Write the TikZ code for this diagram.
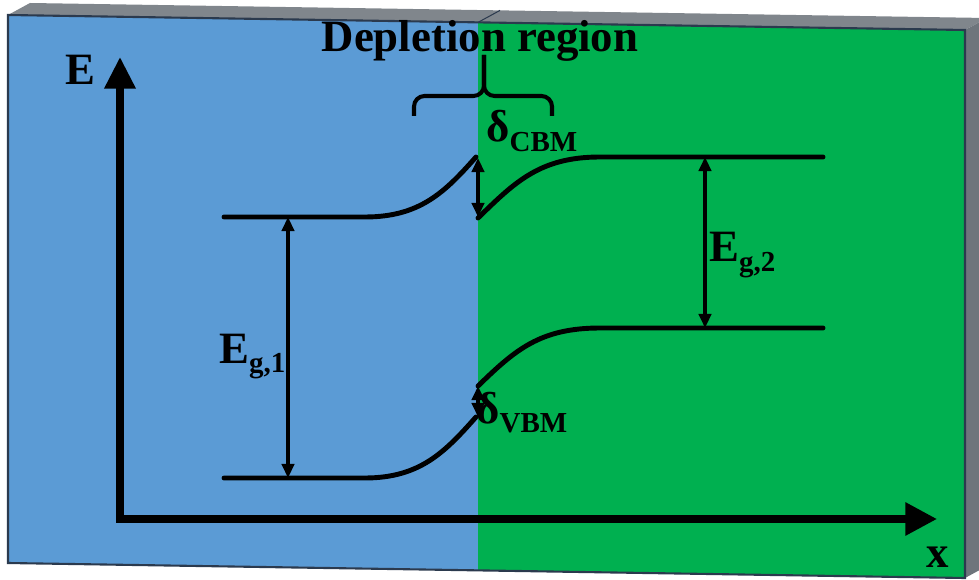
\documentclass[tikz,border=0pt]{standalone}
\usepackage{fontspec}
\setmainfont{Liberation Serif}
\usetikzlibrary{arrows.meta}

\definecolor{pside}{HTML}{5B9BD5}
\definecolor{nside}{HTML}{00B050}
\definecolor{slabtop}{HTML}{80868C}
\definecolor{slabside}{HTML}{6E757C}
\definecolor{slabedge}{HTML}{2B3A4E}

\newcommand{\bandlbl}[2]{#1\raisebox{-0.22em}{\fontsize{16.5}{18}\selectfont #2}}

\tikzset{
  band/.style={line width=2.8pt, line cap=round},
  axis/.style={line width=4pt, {Triangle[length=18pt,width=17pt]}-{Triangle[length=18pt,width=18pt]}},
  gap/.style={line width=2pt, {Triangle[length=8pt,width=7pt]}-{Triangle[length=8pt,width=7pt]}},
  lbl/.style={font=\fontsize{25.5}{30}\selectfont\bfseries, inner sep=0pt},
}

\begin{document}
\begin{tikzpicture}[x=0.02cm, y=-0.02cm]
  \useasboundingbox (0,0) rectangle (979,580);
  \def\xj{478}
  % slab
  \fill[slabtop] (8,15) -- (30,3) -- (987,18) -- (965,30) -- cycle;
  \fill[slabside] (965,30) -- (987,18) -- (987,566) -- (965,578) -- cycle;
  \draw[slabedge, line width=0.6pt] (\xj,22.4) -- (\xj+22,10.4);
  \fill[pside] (8,15) -- (\xj,22.4) -- (\xj,570.5) -- (8,563) -- cycle;
  \fill[nside] (\xj,22.4) -- (965,30) -- (965,578) -- (\xj,570.5) -- cycle;
  \draw[slabedge, line width=1.2pt] (8,15) -- (965,30) -- (965,578) -- (8,563) -- cycle;

  % axes
  \coordinate (etip) at (120,57);
  \coordinate (origin) at (120,519);
  \coordinate (xtip) at (937,519);
  \draw[axis] (etip) -- (origin) -- (xtip);
  \node[lbl, anchor=base] (elabel) at (80,85) {E};
  \node[lbl, anchor=base] (xlabel) at (938,567) {x};

  % bands
  \coordinate (cbL) at (224,217);
  \coordinate (cbJL) at (476,157);
  \coordinate (cbJR) at (\xj,218);
  \coordinate (cbR) at (823,157);
  \coordinate (vbL) at (224,478);
  \coordinate (vbJL) at (476,417);
  \coordinate (vbJR) at (\xj,386);
  \coordinate (vbR) at (823,328);
  \draw[band] (cbL) -- (365,217) .. controls (420,217) and (445,192) .. (cbJL);
  \draw[band] (cbJR) .. controls (515,182) and (540,157) .. (600,157) -- (cbR);
  \draw[band] (vbL) -- (365,478) .. controls (420,478) and (445,452) .. (vbJL);
  \draw[band] (vbJR) .. controls (515,350) and (540,328) .. (600,328) -- (vbR);

  % gaps and offsets
  \coordinate (egAtop) at (288,217);
  \coordinate (egAbot) at (288,478);
  \coordinate (egBtop) at (705,157);
  \coordinate (egBbot) at (705,328);
  \draw[gap] (egAtop) -- (egAbot);
  \draw[gap] (egBtop) -- (egBbot);
  \draw[gap] (\xj,158) -- (\xj,217);
  \draw[gap] (vbJR) -- (\xj,417);
  \node[lbl, anchor=base west] (egA) at (219,363) {\bandlbl{E}{g,1}};
  \node[lbl, anchor=base west] (egB) at (709,262) {\bandlbl{E}{g,2}};
  \node[lbl, anchor=base west] (dcbm) at (486,142) {\bandlbl{δ}{CBM}};
  \node[lbl, anchor=base west] (dvbm) at (476,423) {\bandlbl{δ}{VBM}};

  % depletion region
  \coordinate (brtip) at (484,55);
  \draw[line width=2.3pt, rounded corners=6pt] (414,116) |- (484,96) -- (brtip);
  \draw[line width=2.3pt, rounded corners=6pt] (552,116) |- (484,96) -- (brtip);
  \node[lbl, anchor=base] (dep) at (480,52) {Depletion region};
\end{tikzpicture}
\end{document}
